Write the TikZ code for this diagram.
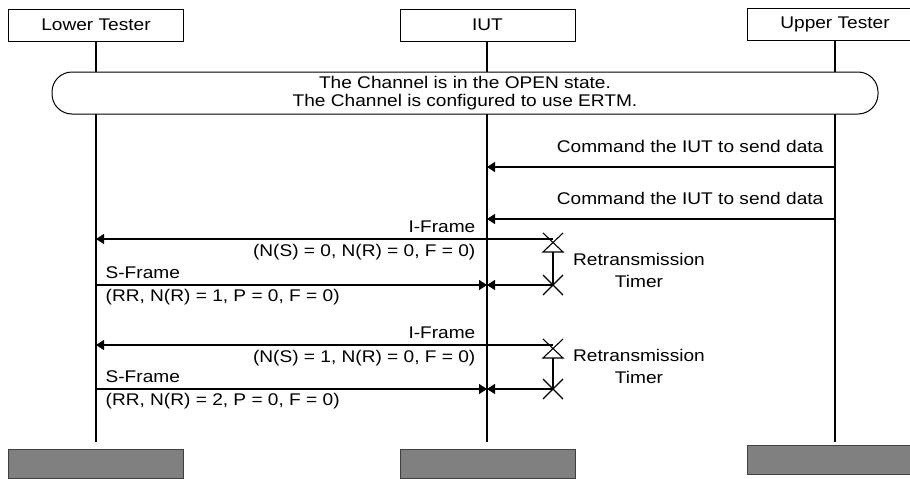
\documentclass[tikz,border=0pt]{standalone}
\usepackage{fontspec}
\setmainfont{Liberation Sans}[FakeStretch=1.13]
\usetikzlibrary{arrows.meta}

\begin{document}
\begin{tikzpicture}[
  x=1pt, y=-1pt,
  font=\fontsize{16.9}{18}\selectfont,
  head/.style={draw, line width=0.9pt, minimum width=175pt, minimum height=32pt, inner sep=0pt},
  foot/.style={draw=black!75, fill=black!50, line width=0.9pt, minimum width=175pt, minimum height=29pt, inner sep=0pt},
  life/.style={line width=1.9pt},
  state/.style={draw, fill=white, line width=1pt, rounded corners=20pt, minimum width=826pt,
                minimum height=42pt, align=center, inner sep=0pt},
  msg/.style={line width=1.3pt, -{Triangle[length=8pt,width=10pt]}},
  lbl/.style={inner sep=0pt},
  tmr/.style={line width=1.1pt}
]
\useasboundingbox (0,0) rectangle (910,479);
\clip (0,0) rectangle (910,479);

% instances
\node[head] (lt) at (96,25) {Lower Tester};
\node[head] (iut) at (487.5,25) {IUT};
\node[head] (ut) at (835,24) {Upper Tester};
\coordinate (lt-end) at (96,442);
\coordinate (iut-end) at (487,442);
\coordinate (ut-end) at (835,442);
\node[foot] (lt-foot) at (96,463.5) {};
\node[foot] (iut-foot) at (487.5,463.5) {};
\node[foot] (ut-foot) at (835,460) {};

\draw[life] (lt) -- (lt-end);
\draw[life] (iut.south -| iut-end) -- (iut-end);
\draw[life] (ut) -- (ut-end);

% initial condition
\node[state] (open) at (465,93) {The Channel is in the OPEN state.\\The Channel is configured to use ERTM.};

% message rows
\coordinate (m1) at (0,167);
\coordinate (m2) at (0,219);
\coordinate (m3) at (0,239);
\coordinate (m4) at (0,285);
\coordinate (m5) at (0,345);
\coordinate (m6) at (0,389);
\coordinate (tmr) at (553,0);

\draw[msg] (ut |- m1) -- (iut-end |- m1)
  node[lbl, pos=0, anchor=base east, xshift=-11pt, yshift=14.5pt] {Command the IUT to send data};
\draw[msg] (ut |- m2) -- (iut-end |- m2)
  node[lbl, pos=0, anchor=base east, xshift=-11pt, yshift=14.5pt] {Command the IUT to send data};

% first I-Frame and retransmission timer
\coordinate (t1s) at (tmr |- m3);
\coordinate (t1e) at (tmr |- m4);
\draw[msg] (iut-end |- m3) -- (lt |- m3)
  node[lbl, pos=0, anchor=base east, xshift=-11pt, yshift=6.5pt] {I-Frame}
  node[lbl, pos=0, anchor=base east, xshift=-11pt, yshift=-17.5pt] {(N(S) = 0, N(R) = 0, F = 0)};
\draw[line width=1.3pt] (iut-end |- m3) -- (t1s);
\draw[tmr] ([shift={(-10,-6)}]t1s) -- ([shift={(10,13)}]t1s) -- ([shift={(-10,13)}]t1s) -- ([shift={(10,-6)}]t1s);
\draw[tmr] ([shift={(0,13)}]t1s) -- (t1e);
\draw[tmr] ([shift={(-10,-10)}]t1e) -- ([shift={(10,10)}]t1e)
           ([shift={(10,-10)}]t1e) -- ([shift={(-10,10)}]t1e);
\draw[msg] (t1e) -- (iut-end |- m4);
\node[align=center] (rt1) at (639,270) {Retransmission\\[4pt]Timer};
\draw[msg] (lt |- m4) -- (iut-end |- m4)
  node[lbl, pos=0, anchor=base west, xshift=9pt, yshift=6.5pt] {S-Frame}
  node[lbl, pos=0, anchor=base west, xshift=9pt, yshift=-16.5pt] {(RR, N(R) = 1, P = 0, F = 0)};

% second I-Frame and retransmission timer
\coordinate (t2s) at (tmr |- m5);
\coordinate (t2e) at (tmr |- m6);
\draw[msg] (iut-end |- m5) -- (lt |- m5)
  node[lbl, pos=0, anchor=base east, xshift=-11pt, yshift=6.5pt] {I-Frame}
  node[lbl, pos=0, anchor=base east, xshift=-11pt, yshift=-17.5pt] {(N(S) = 1, N(R) = 0, F = 0)};
\draw[line width=1.3pt] (iut-end |- m5) -- (t2s);
\draw[tmr] ([shift={(-10,-6)}]t2s) -- ([shift={(10,13)}]t2s) -- ([shift={(-10,13)}]t2s) -- ([shift={(10,-6)}]t2s);
\draw[tmr] ([shift={(0,13)}]t2s) -- (t2e);
\draw[tmr] ([shift={(-10,-10)}]t2e) -- ([shift={(10,10)}]t2e)
           ([shift={(10,-10)}]t2e) -- ([shift={(-10,10)}]t2e);
\draw[msg] (t2e) -- (iut-end |- m6);
\node[align=center] (rt2) at (639,366.5) {Retransmission\\[4pt]Timer};
\draw[msg] (lt |- m6) -- (iut-end |- m6)
  node[lbl, pos=0, anchor=base west, xshift=9pt, yshift=6.5pt] {S-Frame}
  node[lbl, pos=0, anchor=base west, xshift=9pt, yshift=-16.5pt] {(RR, N(R) = 2, P = 0, F = 0)};
\end{tikzpicture}
\end{document}
